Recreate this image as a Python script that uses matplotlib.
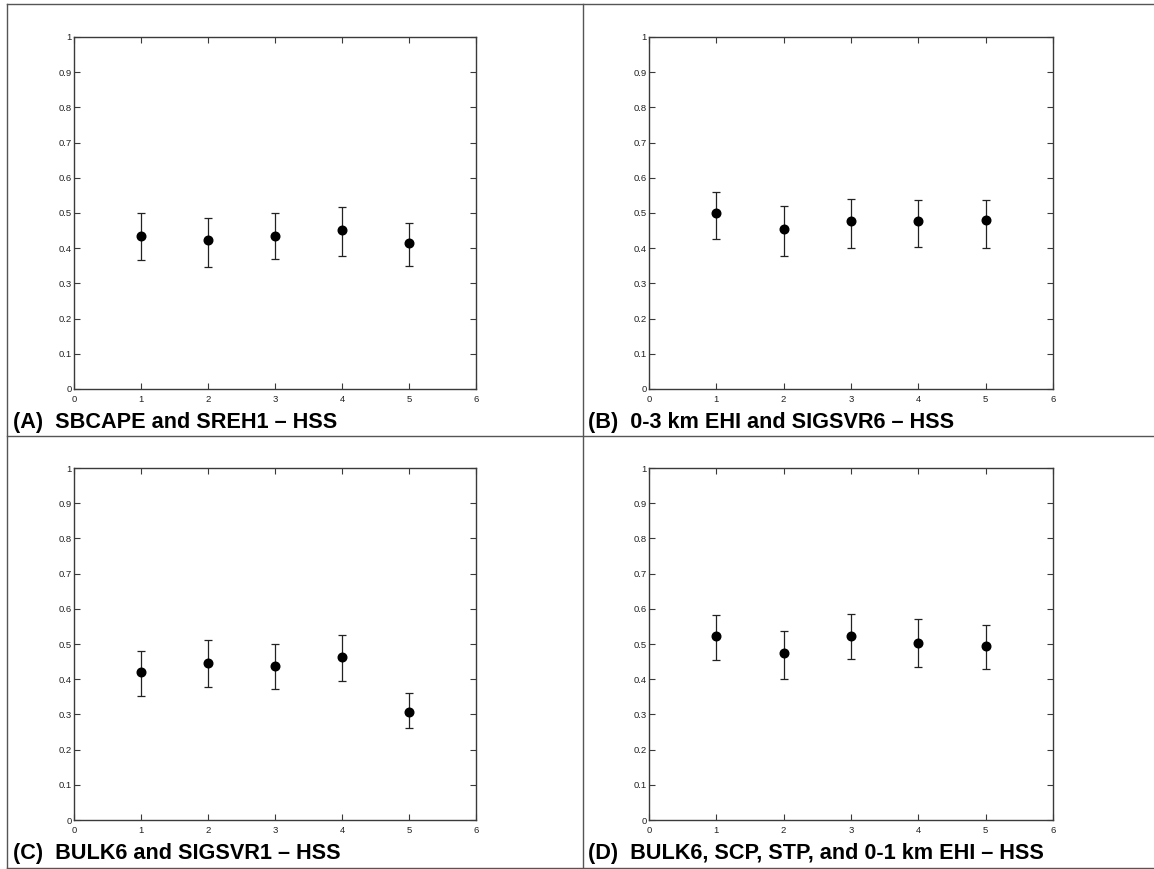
import matplotlib
matplotlib.use("Agg")
import matplotlib.pyplot as plt
from matplotlib.lines import Line2D
import numpy as np

plt.rcParams["font.family"] = ["Liberation Sans", "DejaVu Sans"]

x_positions = [1, 2, 3, 4, 5]

titles = [
    "(A)  SBCAPE and SREH1 \u2013 HSS",
    "(B)  0-3 km EHI and SIGSVR6 \u2013 HSS",
    "(C)  BULK6 and SIGSVR1 \u2013 HSS",
    "(D)  BULK6, SCP, STP, and 0-1 km EHI \u2013 HSS",
]

hss_a = [0.434, 0.423, 0.436, 0.452, 0.414]
low_a = [0.366, 0.347, 0.370, 0.378, 0.350]
high_a = [0.501, 0.486, 0.501, 0.518, 0.472]

hss_b = [0.499, 0.454, 0.477, 0.476, 0.479]
low_b = [0.426, 0.378, 0.400, 0.403, 0.400]
high_b = [0.560, 0.520, 0.541, 0.537, 0.537]

hss_c = [0.420, 0.447, 0.438, 0.464, 0.307]
low_c = [0.353, 0.378, 0.372, 0.394, 0.261]
high_c = [0.481, 0.511, 0.500, 0.525, 0.360]

hss_d = [0.522, 0.474, 0.524, 0.504, 0.494]
low_d = [0.455, 0.401, 0.458, 0.434, 0.428]
high_d = [0.583, 0.537, 0.586, 0.571, 0.554]

x_ticks = [0, 1, 2, 3, 4, 5, 6]
y_ticks = [0, 0.1, 0.2, 0.3, 0.4, 0.5, 0.6, 0.7, 0.8, 0.9, 1]
y_tick_labels = ["0", "0.1", "0.2", "0.3", "0.4", "0.5", "0.6", "0.7", "0.8", "0.9", "1"]

panels = [
    (hss_a, low_a, high_a),
    (hss_b, low_b, high_b),
    (hss_c, low_c, high_c),
    (hss_d, low_d, high_d),
]

W, H = 1154, 869
fig = plt.figure(figsize=(W / 100, H / 100), dpi=100)

# axes boxes in pixels: left, top, right, bottom
boxes = [
    (74, 37, 476, 389),
    (649, 37, 1053, 389),
    (74, 468, 476, 820),
    (649, 468, 1053, 820),
]
title_pos = [(13, 428), (588, 428), (13, 859), (588, 859)]

axis_color = "#3a3a3a"

for (vals, lo, hi), (l, t, r, b), title, (tx, ty) in zip(panels, boxes, titles, title_pos):
    ax = fig.add_axes([l / W, 1 - b / H, (r - l) / W, (b - t) / H])
    vals = np.array(vals)
    yerr = np.vstack([vals - np.array(lo), np.array(hi) - vals])
    ax.errorbar(x_positions, vals, yerr=yerr, fmt="o", color="black",
                ecolor="#222222", elinewidth=0.9, capsize=2.6, capthick=0.9,
                markersize=6.2)
    ax.set_xlim(0, 6)
    ax.set_ylim(0, 1)
    ax.set_xticks(x_ticks)
    ax.set_xticklabels([str(v) for v in x_ticks])
    ax.set_yticks(y_ticks)
    ax.set_yticklabels(y_tick_labels)
    ax.tick_params(direction="in", length=4, width=0.8, colors=axis_color,
                   labelsize=6.8, labelcolor="#222222", top=True, right=True)
    ax.tick_params(axis="x", pad=4)
    ax.tick_params(axis="y", pad=1.5)
    for s in ax.spines.values():
        s.set_color(axis_color)
        s.set_linewidth(1.0)
    fig.text(tx / W, 1 - ty / H, title, fontsize=15.6, fontweight="bold",
             ha="left", va="baseline", color="black")

# panel frame
frame_color = "#555555"
frame_lines = [
    ((7, 7), (4, 868)),
    ((7, 1154), (4, 4)),
    ((7, 1154), (868, 868)),
    ((7, 1154), (436, 436)),
    ((583, 583), (4, 868)),
]
for xs, ys in frame_lines:
    fig.add_artist(Line2D([x / W for x in xs], [1 - y / H for y in ys],
                          color=frame_color, linewidth=1.0))

fig.savefig("out.png", dpi=100, facecolor="white")
